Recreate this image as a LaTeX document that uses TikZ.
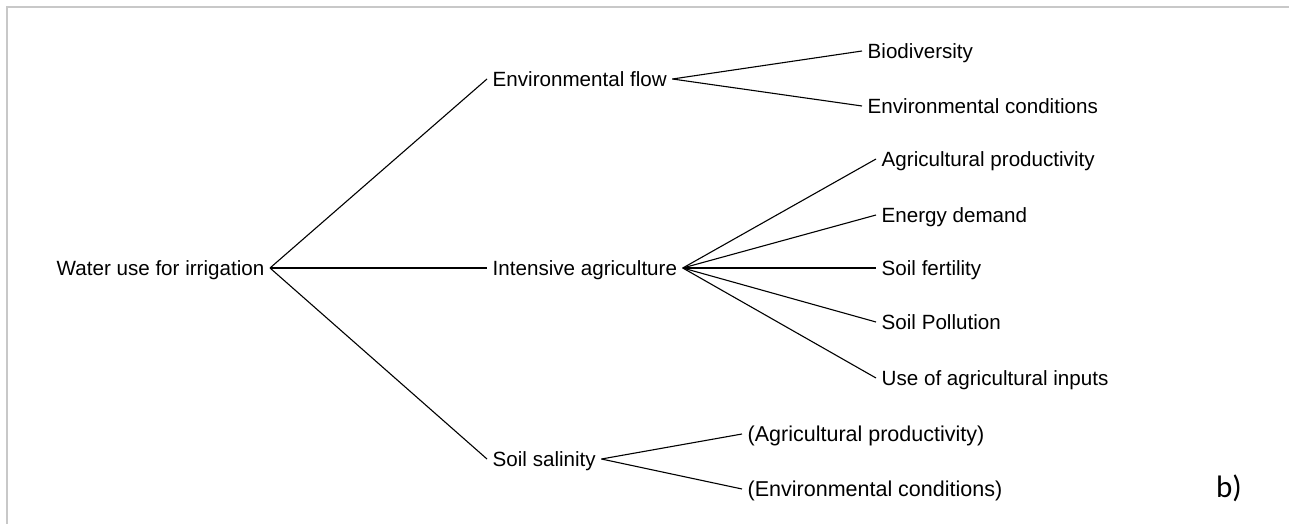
\documentclass[tikz,border=0pt]{standalone}
\usepackage{fontspec}
\setmainfont{Liberation Sans}
\newfontfamily\labelfont{Carlito}
\begin{document}
\begin{tikzpicture}[x=1pt,y=-1pt,
  item/.style={anchor=west,inner xsep=5.5pt,inner ysep=0pt,
    text height=14.7pt,text depth=0pt,
    font=\fontsize{20.6}{24}\selectfont},
  aside/.style={item,font=\fontsize{21.5}{25}\selectfont},
  link/.style={line width=1.1pt,black},
  frame/.style={line width=2pt,color={rgb,255:red,200;green,200;blue,200}}]
  \useasboundingbox (0,0) rectangle (1289,524);
  % frame edges (top and left)
  \draw[frame] (6,7.5) -- (1289,7.5);
  \draw[frame] (7,6.5) -- (7,524);

  % root
  \node[item] (root) at (51,268) {Water use for irrigation};

  % second level
  \node[item] (envflow) at (487,79) {Environmental flow};
  \node[item] (intens) at (487,268) {Intensive agriculture};
  \node[item] (salin) at (487,459) {Soil salinity};

  % effects of environmental flow
  \node[item] (biodiv) at (862,51) {Biodiversity};
  \node[item] (envcond) at (862,106) {Environmental conditions};

  % effects of intensive agriculture
  \node[item] (agprod) at (876,159) {Agricultural productivity};
  \node[item] (energy) at (876,215) {Energy demand};
  \node[item] (fert) at (876,268) {Soil fertility};
  \node[item] (poll) at (876,322) {Soil Pollution};
  \node[item] (inputs) at (876,378) {Use of agricultural inputs};

  % effects of soil salinity
  \node[aside] (pagprod) at (742,434) {(Agricultural productivity)};
  \node[aside] (penv) at (742,489) {(Environmental conditions)};

  % panel label
  \node[anchor=base west,inner sep=0pt,font=\labelfont\fontsize{31}{36}\selectfont]
    (panel) at (1216,497) {b)};

  % connectors
  \draw[link] (root.east) -- (envflow.west);
  \draw[link] (root.east) -- (intens.west);
  \draw[link] (root.east) -- (salin.west);

  \draw[link] (envflow.east) -- (biodiv.west);
  \draw[link] (envflow.east) -- (envcond.west);

  \draw[link] (intens.east) -- (agprod.west);
  \draw[link] (intens.east) -- (energy.west);
  \draw[link] (intens.east) -- (fert.west);
  \draw[link] (intens.east) -- (poll.west);
  \draw[link] (intens.east) -- (inputs.west);

  \draw[link] (salin.east) -- (pagprod.west);
  \draw[link] (salin.east) -- (penv.west);
\end{tikzpicture}
\end{document}
